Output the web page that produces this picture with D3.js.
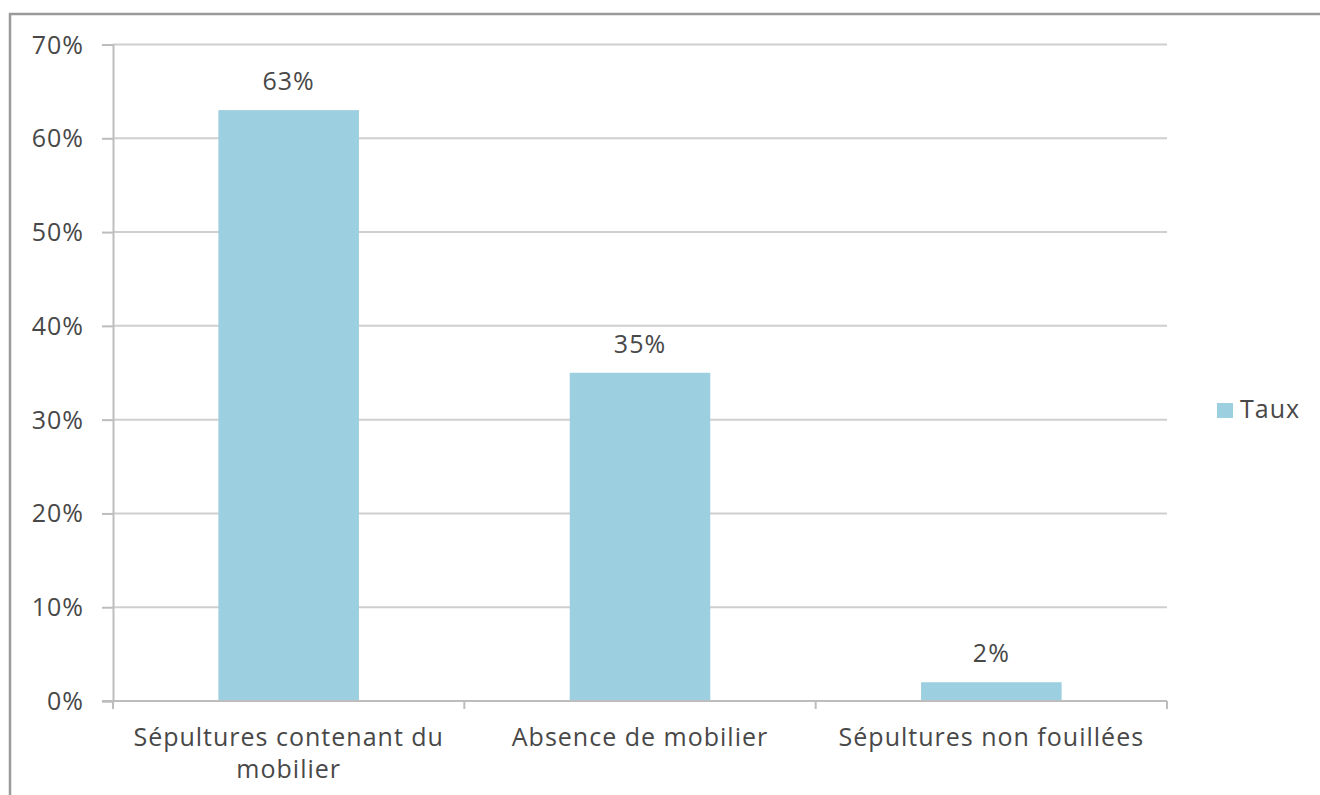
<!DOCTYPE html>
<html>
<head>
<meta charset="utf-8">
<script src="https://cdn.jsdelivr.net/npm/d3@7"></script>
<style>
  html, body { margin: 0; padding: 0; background: #fff; }
  svg { display: block; }
  text { font-family: "Open Sans", "Noto Sans", sans-serif; fill: #484848; letter-spacing: 1px; }
</style>
</head>
<body>
<svg id="chart" width="1320" height="795"></svg>
<script>
// Répartition des sépultures selon la présence de mobilier
const categories = [
  ["Sépultures contenant du", "mobilier"],
  ["Absence de mobilier"],
  ["Sépultures non fouillées"]
];
const taux = [63, 35, 2];
const yTicks = [0, 10, 20, 30, 40, 50, 60, 70];
const seriesName = "Taux";

const svg = d3.select("#chart");
const W = 1320, H = 795;
const plot = { left: 113, right: 1167, top: 44.5, bottom: 701 };
const fontSize = 25;

// outer frame
svg.append("rect")
  .attr("x", 10).attr("y", 14)
  .attr("width", W + 20).attr("height", H + 20)
  .attr("fill", "#fff")
  .attr("stroke", "#9a9a9a").attr("stroke-width", 2.5);

const x = d3.scaleBand()
  .domain(d3.range(categories.length))
  .range([plot.left, plot.right])
  .padding(0);

const y = d3.scaleLinear()
  .domain([0, 70])
  .range([plot.bottom, plot.top]);

const barW = x.step() * 0.4;

// horizontal gridlines
svg.append("g")
  .selectAll("line")
  .data(yTicks.filter(d => d > 0))
  .join("line")
  .attr("x1", plot.left).attr("x2", plot.right)
  .attr("y1", d => y(d)).attr("y2", d => y(d))
  .attr("stroke", "#cfcfcf").attr("stroke-width", 2);

// y axis
const yAxis = svg.append("g")
  .attr("transform", `translate(${plot.left},0)`)
  .call(d3.axisLeft(y).tickValues(yTicks).tickFormat(d => d + "%").tickSize(11).tickPadding(18));
yAxis.select(".domain").attr("stroke", "#bdbdbd").attr("stroke-width", 2);
yAxis.selectAll(".tick line").attr("stroke", "#bdbdbd").attr("stroke-width", 2);
yAxis.selectAll(".tick text")
  .attr("font-size", fontSize)
  .attr("font-family", "Open Sans")
  .attr("fill", "#484848")
  .attr("dy", "0.34em");

// bars
svg.append("g")
  .selectAll("rect")
  .data(taux)
  .join("rect")
  .attr("x", (d, i) => x(i) + (x.bandwidth() - barW) / 2)
  .attr("width", barW)
  .attr("y", d => y(d))
  .attr("height", d => y(0) - y(d))
  .attr("fill", "#9ccfe0");

// value labels
svg.append("g")
  .selectAll("text")
  .data(taux)
  .join("text")
  .attr("x", (d, i) => x(i) + x.bandwidth() / 2)
  .attr("y", d => y(d) - 20)
  .attr("text-anchor", "middle")
  .attr("font-size", fontSize)
  .text(d => d + "%");

// x axis with category boundary ticks
const xAxis = svg.append("g");
xAxis.append("line")
  .attr("x1", plot.left - 11).attr("x2", plot.right)
  .attr("y1", plot.bottom).attr("y2", plot.bottom)
  .attr("stroke", "#bdbdbd").attr("stroke-width", 2);
xAxis.selectAll("line.bound")
  .data(d3.range(categories.length + 1))
  .join("line")
  .attr("class", "bound")
  .attr("x1", i => plot.left + i * x.step())
  .attr("x2", i => plot.left + i * x.step())
  .attr("y1", plot.bottom).attr("y2", plot.bottom + 8)
  .attr("stroke", "#bdbdbd").attr("stroke-width", 2);

const catLabels = xAxis.selectAll("text.cat")
  .data(categories)
  .join("text")
  .attr("class", "cat")
  .attr("text-anchor", "middle")
  .attr("font-size", fontSize)
  .attr("transform", (d, i) => `translate(${x(i) + x.bandwidth() / 2},746)`);
catLabels.selectAll("tspan")
  .data(d => d)
  .join("tspan")
  .attr("x", 0)
  .attr("y", (d, j) => j * 32)
  .text(d => d);

// legend
const legend = svg.append("g").attr("transform", "translate(1217,403)");
legend.append("rect")
  .attr("width", 16).attr("height", 15)
  .attr("fill", "#9ccfe0");
legend.append("text")
  .attr("x", 23).attr("y", 15)
  .attr("font-size", fontSize)
  .text(seriesName);
</script>
</body>
</html>
